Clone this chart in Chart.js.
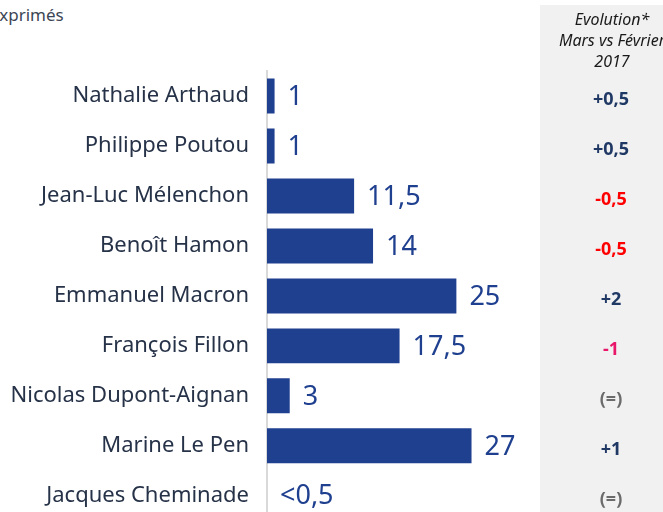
<!DOCTYPE html>
<html>
<head>
<meta charset="utf-8">
<script src="https://cdn.jsdelivr.net/npm/chart.js@4"></script>
<style>
  body { margin: 0; width: 663px; height: 512px; overflow: hidden; background: #fff; position: relative; }
  #titre { position: absolute; left: -10px; top: 3px; font: 17px "Noto Sans", sans-serif; color: #3d4654; }
  canvas { position: absolute; left: 0; top: 0; }
</style>
</head>
<body>
<div id="titre">exprimés</div>
<canvas id="grafica" width="663" height="552"></canvas>
<script>
// Candidats
const candidats = [
  "Nathalie Arthaud",
  "Philippe Poutou",
  "Jean-Luc Mélenchon",
  "Benoît Hamon",
  "Emmanuel Macron",
  "François Fillon",
  "Nicolas Dupont-Aignan",
  "Marine Le Pen",
  "Jacques Cheminade",
];

// Intentions de vote (%)
const intentions = [1, 1, 11.5, 14, 25, 17.5, 3, 27, 0];
const etiquettes = ["1", "1", "11,5", "14", "25", "17,5", "3", "27", "<0,5"];

// Evolution Mars vs Février 2017
const evolutions = ["+0,5", "+0,5", "-0,5", "-0,5", "+2", "-1", "(=)", "+1", "(=)"];
const couleursEvo = ["#1f3864", "#1f3864", "#ff0000", "#ff0000", "#1f3864", "#e8176a", "#6b6b6b", "#1f3864", "#6b6b6b"];

const enteteEvo = ["Evolution*", "Mars vs Février", "2017"];

const pluginTextes = {
  id: "textes",
  beforeDraw(chart) {
    const ctx = chart.ctx;
    ctx.save();
    ctx.fillStyle = "#f1f1f1";
    ctx.fillRect(540, 5, 123, 550);
    ctx.fillStyle = "#1a1a1a";
    ctx.font = "italic 16px 'Noto Sans', sans-serif";
    ctx.textAlign = "center";
    ctx.textBaseline = "middle";
    enteteEvo.forEach((t, i) => ctx.fillText(t, 612, 20 + i * 21));
    ctx.restore();
  },
  afterDatasetsDraw(chart) {
    const ctx = chart.ctx;
    const meta = chart.getDatasetMeta(0);
    const y = chart.scales.y;
    ctx.save();
    ctx.textBaseline = "middle";
    ctx.font = "27px 'Noto Sans', sans-serif";
    ctx.fillStyle = "#1f3f8f";
    ctx.textAlign = "left";
    meta.data.forEach((barre, i) => {
      ctx.fillText(etiquettes[i], barre.x + 13, barre.y + 1);
    });
    ctx.font = "bold 18px 'Noto Sans', sans-serif";
    ctx.textAlign = "center";
    evolutions.forEach((t, i) => {
      ctx.fillStyle = couleursEvo[i];
      ctx.fillText(t, 611, y.getPixelForValue(i) + 4);
    });
    ctx.restore();
  },
};

new Chart(document.getElementById("grafica"), {
  type: "bar",
  data: {
    labels: candidats,
    datasets: [
      {
        data: intentions,
        backgroundColor: "#1f3f8f",
        categoryPercentage: 1,
        barPercentage: 0.7,
      },
    ],
  },
  options: {
    indexAxis: "y",
    responsive: false,
    animation: false,
    layout: { padding: { top: 71, right: 93, bottom: 0, left: 0 } },
    plugins: { legend: { display: false }, tooltip: { enabled: false } },
    scales: {
      x: { display: false, min: 0, max: 40 },
      y: {
        grid: { display: false, drawTicks: false },
        border: { display: true, color: "#d9d9d9", width: 2 },
        ticks: { color: "#263248", padding: 18, font: { family: "Noto Sans", size: 22 } },
        afterFit: (escala) => { escala.width = 267; },
      },
    },
  },
  plugins: [pluginTextes],
});
</script>
</body>
</html>
